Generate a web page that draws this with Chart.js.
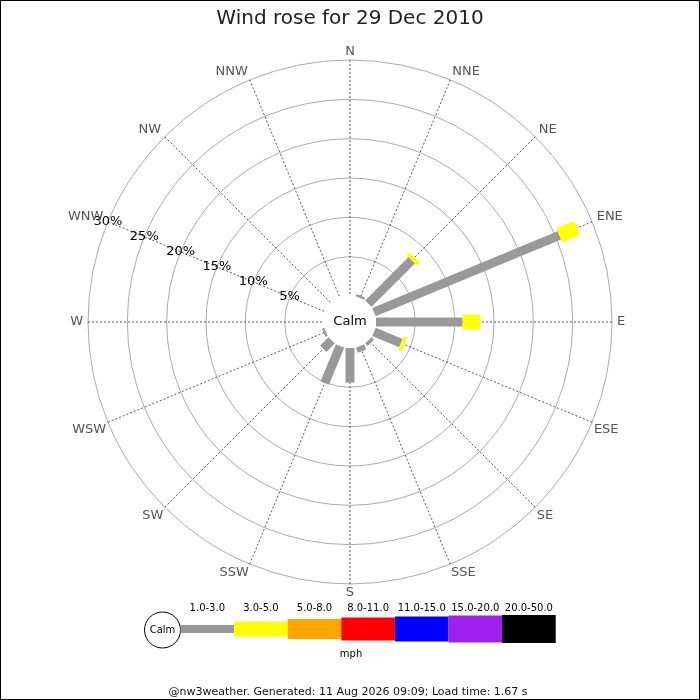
<html>
<head>
<meta http-equiv="Content-Type" content="text/html; charset=UTF-8"/>
<title>Wind rose</title>
<script src="https://cdn.jsdelivr.net/npm/chart.js@4.4.1/dist/chart.umd.min.js"></script>
<style type="text/css">
    body { margin: 0; padding: 0; background: #fff; }
    #holder { width: 700px; height: 700px; position: relative; }
</style>
<script type="text/javascript">
    // directions, clockwise from north
    var directions = ['N', 'NNE', 'NE', 'ENE', 'E', 'ESE', 'SE', 'SSE', 'S', 'SSW', 'SW', 'WSW', 'W', 'WNW', 'NW', 'NNW'];
    var speedBins = ['1.0-3.0', '3.0-5.0', '5.0-8.0', '8.0-11.0', '11.0-15.0', '15.0-20.0', '20.0-50.0'];
    var binColors = ['#999999', '#ffff00', '#ffa500', '#ff0000', '#0000ff', '#a020f0', '#000000'];

    // percent of the day per direction, one array per speed bin
    var bin1 = [0, 0.3, 7.8, 25.5, 11.0, 3.7, 0.45, 0.7, 4.4, 5.1, 1.5, 0.3, 0, 0, 0, 0];
    var bin2 = [0, 0, 0.5, 2.45, 2.25, 0.45, 0, 0, 0, 0, 0, 0, 0, 0, 0, 0];
    var bin3 = [0, 0, 0, 0, 0, 0, 0, 0, 0, 0, 0, 0, 0, 0, 0, 0];
    var bin4 = [0, 0, 0, 0, 0, 0, 0, 0, 0, 0, 0, 0, 0, 0, 0, 0];
    var bin5 = [0, 0, 0, 0, 0, 0, 0, 0, 0, 0, 0, 0, 0, 0, 0, 0];
    var bin6 = [0, 0, 0, 0, 0, 0, 0, 0, 0, 0, 0, 0, 0, 0, 0, 0];
    var bin7 = [0, 0, 0, 0, 0, 0, 0, 0, 0, 0, 0, 0, 0, 0, 0, 0];
    var binData = [bin1, bin2, bin3, bin4, bin5, bin6, bin7];

    var percentTicks = [5, 10, 15, 20, 25, 30];
    var tickLabelDir = 13; // WNW

    var barWidths = [9, 15, 20, 23, 25, 27, 28];
    var legendHeights = [8, 15, 20, 23, 25, 27, 28];

    var titleText = 'Wind rose for 29 Dec 2010';
    var footerText = '@nw3weather. Generated: 11 Aug 2026 09:09; Load time: 1.67 s';
    var font = '"DejaVu Sans", Verdana, sans-serif';

    var rosePlugin = {
        id: 'rose',
        beforeDatasetsDraw: function (chart) {
            var ctx = chart.ctx, r = chart.scales.r;
            // calm circle
            ctx.save();
            ctx.beginPath();
            ctx.arc(r.xCenter, r.yCenter, r.getDistanceFromCenterForValue(0), 0, Math.PI * 2);
            ctx.fillStyle = '#fff';
            ctx.fill();
            ctx.restore();
        },
        afterDatasetsDraw: function (chart) {
            var ctx = chart.ctx, r = chart.scales.r;
            ctx.save();
            ctx.lineCap = 'butt';
            // stacked bars per direction
            for (var i = 0; i < directions.length; i++) {
                var acc = 0;
                for (var b = 0; b < binData.length; b++) {
                    var v = binData[b][i];
                    if (v > 0) {
                        var p0 = r.getPointPositionForValue(i, acc);
                        var p1 = r.getPointPositionForValue(i, acc + v);
                        ctx.beginPath();
                        ctx.moveTo(p0.x, p0.y);
                        ctx.lineTo(p1.x, p1.y);
                        ctx.lineWidth = barWidths[b];
                        ctx.strokeStyle = binColors[b];
                        ctx.stroke();
                    }
                    acc += v;
                }
            }
            // Calm text
            ctx.fillStyle = '#000';
            ctx.font = '13px ' + font;
            ctx.textAlign = 'center';
            ctx.textBaseline = 'middle';
            ctx.fillText('Calm', r.xCenter, r.yCenter);
            // percent labels along WNW
            for (var k = 0; k < percentTicks.length; k++) {
                var p = r.getPointPositionForValue(tickLabelDir, percentTicks[k]);
                ctx.fillText(percentTicks[k] + '%', p.x, p.y);
            }
            // direction labels
            ctx.fillStyle = '#555';
            for (var j = 0; j < directions.length; j++) {
                var a = r.getIndexAngle(j);
                var s = Math.sin(a), c = Math.cos(a);
                var off = c < -0.01 ? 2 : 5;
                var q = r.getPointPosition(j, r.drawingArea + off);
                ctx.textAlign = Math.abs(s) < 0.01 ? 'center' : (s > 0 ? 'left' : 'right');
                ctx.textBaseline = Math.abs(c) < 0.01 ? 'middle' : (c > 0 ? 'alphabetic' : 'top');
                ctx.fillText(directions[j], q.x, q.y);
            }
            ctx.restore();
        },
        afterDraw: function (chart) {
            var ctx = chart.ctx;
            ctx.save();
            // title
            ctx.fillStyle = '#222';
            ctx.font = '20px ' + font;
            ctx.textAlign = 'center';
            ctx.textBaseline = 'alphabetic';
            ctx.fillText(titleText, 350, 24);

            // legend
            var lx = 180.5, lw = 53.6, ly = 629;
            ctx.beginPath();
            ctx.arc(162.5, 630, 18, 0, Math.PI * 2);
            ctx.fillStyle = '#fff';
            ctx.fill();
            ctx.lineWidth = 1;
            ctx.strokeStyle = '#000';
            ctx.stroke();
            ctx.fillStyle = '#000';
            ctx.font = '10px ' + font;
            ctx.textBaseline = 'middle';
            ctx.fillText('Calm', 162.5, 630);
            ctx.textBaseline = 'alphabetic';
            for (var b = 0; b < speedBins.length; b++) {
                var h = legendHeights[b];
                ctx.fillStyle = binColors[b];
                ctx.fillRect(lx + b * lw, ly - h / 2, lw, h);
                ctx.fillStyle = '#000';
                ctx.fillText(speedBins[b], lx + b * lw + lw / 2, 611);
            }
            ctx.fillText('mph', 351, 657);

            // footer
            ctx.font = '11px ' + font;
            ctx.fillStyle = '#111';
            ctx.fillText(footerText, 348, 695);

            // frame
            ctx.strokeStyle = '#000';
            ctx.lineWidth = 1;
            ctx.strokeRect(0.5, 0.5, 699, 699);
            ctx.restore();
        }
    };

    window.onload = function () {
        var datasets = [];
        for (var b = 0; b < binData.length; b++) {
            datasets.push({
                label: speedBins[b],
                data: binData[b],
                borderWidth: 0,
                pointRadius: 0,
                fill: false,
                backgroundColor: 'rgba(0,0,0,0)'
            });
        }
        var ctx = document.getElementById('chart-area').getContext('2d');
        window.myRose = new Chart(ctx, {
            type: 'radar',
            data: { labels: directions, datasets: datasets },
            options: {
                responsive: true,
                maintainAspectRatio: false,
                animation: false,
                events: [],
                layout: { padding: { left: 88, right: 88, top: 60, bottom: 116 } },
                plugins: { legend: { display: false }, tooltip: { enabled: false }, title: { display: false } },
                scales: {
                    r: {
                        min: -3.305,
                        max: 30,
                        ticks: { display: false, stepSize: 5 },
                        pointLabels: { display: false },
                        grid: {
                            circular: true,
                            lineWidth: 1,
                            color: function (c) { return c.tick && c.tick.value > 0 ? '#aaaaaa' : 'rgba(0,0,0,0)'; }
                        },
                        angleLines: { color: '#555', lineWidth: 1, borderDash: [2, 2] }
                    }
                }
            },
            plugins: [rosePlugin]
        });
    };
</script>
</head>
<body>
    <div id="holder">
        <canvas id="chart-area"></canvas>
    </div>
</body>
</html>
